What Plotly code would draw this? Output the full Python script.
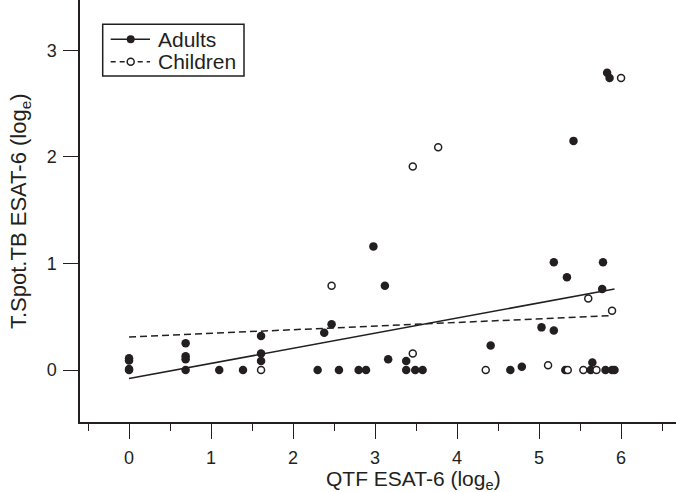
import plotly.graph_objects as go

# Adults (filled markers)
adult_x = [0, 0, 0, 0, 0.69, 0.69, 0.69, 0.69, 1.10, 1.39, 1.61, 1.61, 1.61,
           2.30, 2.38, 2.47, 2.56, 2.80, 2.89, 2.98, 3.12, 3.16, 3.38, 3.38, 3.49, 3.58,
           4.41, 4.65, 4.79, 5.03, 5.18, 5.18, 5.32, 5.34, 5.42, 5.63, 5.65,
           5.77, 5.78, 5.81, 5.83, 5.86, 5.89, 5.92]
adult_y = [0.0, 0.01, 0.09, 0.11, 0.0, 0.10, 0.13, 0.25, 0.0, 0.0, 0.085, 0.155, 0.32,
           0.0, 0.35, 0.43, 0.0, 0.0, 0.0, 1.16, 0.79, 0.10, 0.0, 0.085, 0.0, 0.0,
           0.23, 0.0, 0.03, 0.40, 0.37, 1.01, 0.0, 0.87, 2.15, 0.0, 0.07,
           0.76, 1.01, 0.0, 2.79, 2.74, 0.0, 0.0]

# Children (open markers)
child_x = [1.61, 2.47, 3.46, 3.46, 3.77, 4.35, 5.11, 5.35, 5.54, 5.60, 5.70, 5.89, 6.00]
child_y = [0.0, 0.79, 1.91, 0.155, 2.09, 0.0, 0.045, 0.0, 0.0, 0.67, 0.0, 0.555, 2.74]

# Regression line end points
adult_fit_x = [0.0, 5.92]
adult_fit_y = [-0.08, 0.76]
child_fit_x = [0.0, 5.88]
child_fit_y = [0.31, 0.51]

series_names = ["Adults", "Children"]
x_major = [0, 1, 2, 3, 4, 5, 6]
y_major = [0, 1, 2, 3]

INK = "#231f20"
FONT = "Liberation Sans, Arial, Helvetica, sans-serif"

W, H = 676, 492
ML, MB = 80, 70
PW, PH = W - ML, H - MB


def px(xp):
    return (xp - ML) / PW


def py(yp):
    return 1 - yp / PH


fig = go.Figure()

fig.add_trace(go.Scatter(x=adult_fit_x, y=adult_fit_y, mode="lines",
                         line=dict(color=INK, width=1.6), showlegend=False))
fig.add_trace(go.Scatter(x=child_fit_x, y=child_fit_y, mode="lines",
                         line=dict(color=INK, width=1.5, dash="7px,4px"), showlegend=False))
fig.add_trace(go.Scatter(x=adult_x, y=adult_y, mode="markers", name=series_names[0],
                         marker=dict(color=INK, size=8.5, symbol="circle", line=dict(width=0)),
                         showlegend=False))
fig.add_trace(go.Scatter(x=child_x, y=child_y, mode="markers", name=series_names[1],
                         marker=dict(color="white", size=7, symbol="circle",
                                     line=dict(color=INK, width=1.5)),
                         showlegend=False))

# hand-built legend (box, line samples, marker samples, labels)
shapes = [dict(type="rect", xref="paper", yref="paper",
               x0=px(102.7), x1=px(244), y0=py(76), y1=py(24.3),
               line=dict(color=INK, width=1.5), fillcolor="white", layer="above")]
rows = [39.3, 61.7]
dashes = ["solid", "5px,4px"]
annos = []
for i, yrow in enumerate(rows):
    shapes.append(dict(type="line", xref="paper", yref="paper",
                       x0=px(110.7), x1=px(150), y0=py(yrow), y1=py(yrow),
                       line=dict(color=INK, width=1.5, dash=dashes[i]), layer="above"))
    r = 4.0 if i == 0 else 3.5
    shapes.append(dict(type="circle", xref="paper", yref="paper",
                       x0=px(130.7 - r), x1=px(130.7 + r),
                       y0=py(yrow + r), y1=py(yrow - r),
                       line=dict(color=INK, width=0 if i == 0 else 1.5),
                       fillcolor=INK if i == 0 else "white", layer="above"))
    annos.append(dict(text=series_names[i], xref="paper", yref="paper",
                      x=px(155.5), y=py(yrow), xanchor="left", yanchor="middle",
                      showarrow=False, font=dict(size=21, color=INK)))

annos += [
    dict(text="QTF ESAT-6 (log<sub>e</sub>)", x=3.47, xref="x", y=-0.102, yref="paper",
         xanchor="center", yanchor="top", showarrow=False,
         font=dict(size=21, color=INK)),
    dict(text="T.Spot.TB ESAT-6 (log<sub>e</sub>)", x=px(20), xref="paper", y=0.5,
         yref="paper", xanchor="center", yanchor="middle", textangle=-90,
         showarrow=False, font=dict(size=22, color=INK)),
]

fig.update_layout(
    width=W, height=H,
    margin=dict(l=ML, r=0, t=0, b=MB),
    paper_bgcolor="white", plot_bgcolor="white",
    font=dict(family=FONT, size=18, color=INK),
    showlegend=False,
    shapes=shapes,
    annotations=annos,
)

fig.update_xaxes(range=[-0.598, 6.67], showgrid=False, zeroline=False,
                 showline=True, linecolor=INK, linewidth=1.5,
                 tickmode="array", tickvals=x_major, ticks="outside", ticklen=15,
                 tickwidth=1.2, tickcolor=INK, ticklabelstandoff=4,
                 minor=dict(tickmode="linear", tick0=-0.5, dtick=0.5, ticks="outside",
                            ticklen=7, tickwidth=1.2, tickcolor=INK, showgrid=False))
fig.update_yaxes(range=[-0.488, 3.472], showgrid=False, zeroline=False,
                 showline=True, linecolor=INK, linewidth=1.5,
                 tickmode="array", tickvals=y_major, ticks="outside", ticklen=15,
                 tickwidth=1.2, tickcolor=INK, ticklabelstandoff=3)

fig.write_html("out.html", config={"displayModeBar": False},
               post_script="document.body.style.margin='0';document.body.style.overflow='hidden';")
